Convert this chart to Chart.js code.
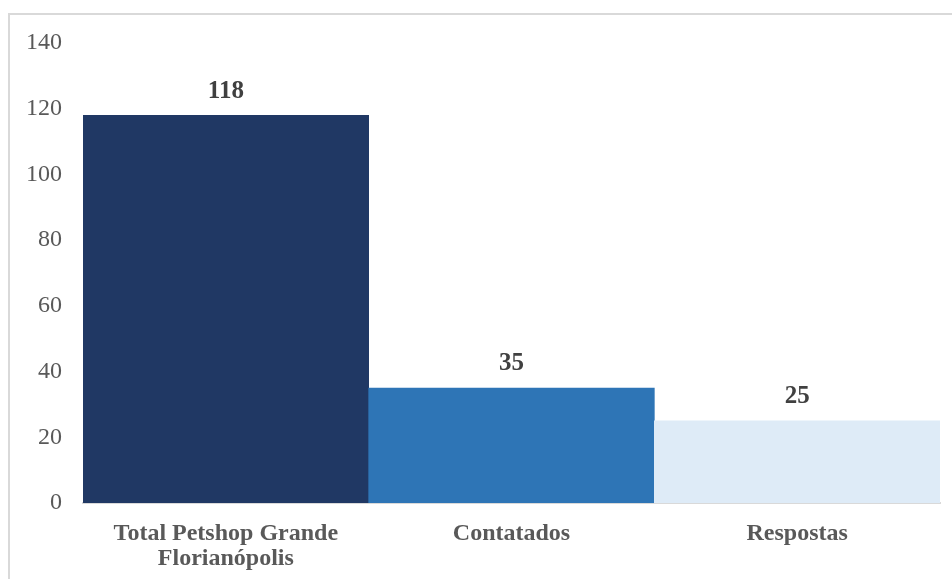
<!DOCTYPE html>
<html>
<head>
<meta charset="utf-8">
<script src="https://cdn.jsdelivr.net/npm/chart.js@4/dist/chart.umd.min.js"></script>
<style>
html,body{margin:0;padding:0;background:#fff;}
#wrap{position:absolute;left:0;top:0;width:952px;height:579px;}
</style>
</head>
<body>
<div id="wrap"><canvas id="c" width="952" height="579"></canvas></div>
<script>
const categories = [["Total Petshop Grande", "Florianópolis"], "Contatados", "Respostas"];
const values = [118, 35, 25];
const barColors = ["#203864", "#2e75b6", "#deebf7"];
const yTicks = [0, 20, 40, 60, 80, 100, 120, 140];

const frame = {
  id: 'frame',
  beforeDraw(chart) {
    const ctx = chart.ctx;
    ctx.save();
    ctx.strokeStyle = '#d9d9d9';
    ctx.lineWidth = 2;
    ctx.beginPath();
    ctx.moveTo(9, 600);
    ctx.lineTo(9, 14);
    ctx.lineTo(960, 14);
    ctx.stroke();
    ctx.restore();
  }
};

const dataLabels = {
  id: 'dataLabels',
  afterDatasetsDraw(chart) {
    const ctx = chart.ctx;
    const meta = chart.getDatasetMeta(0);
    ctx.save();
    ctx.font = 'bold 25px "Liberation Serif"';
    ctx.fillStyle = '#404040';
    ctx.textAlign = 'center';
    ctx.textBaseline = 'middle';
    meta.data.forEach((bar, i) => {
      ctx.fillText(String(values[i]), bar.x, bar.y - 24);
    });
    ctx.restore();
  }
};

new Chart(document.getElementById('c'), {
  type: 'bar',
  data: {
    labels: categories,
    datasets: [{
      data: values,
      backgroundColor: barColors,
      borderWidth: 0,
      barPercentage: 1,
      categoryPercentage: 1
    }]
  },
  options: {
    responsive: false,
    animation: false,
    devicePixelRatio: 1,
    layout: { padding: { left: 0, right: 12, top: 43, bottom: 0 } },
    plugins: { legend: { display: false }, tooltip: { enabled: false } },
    scales: {
      x: {
        grid: { display: false, drawTicks: false },
        border: { display: true, color: '#d9d9d9', width: 2 },
        ticks: {
          color: '#595959',
          font: { family: '"Liberation Serif"', size: 24, weight: 'bold', lineHeight: 1.05 },
          padding: 18,
          maxRotation: 0,
          autoSkip: false
        },
        afterFit(s) { s.height = 76; }
      },
      y: {
        min: 0,
        max: 140,
        afterBuildTicks(s) { s.ticks = yTicks.map(v => ({ value: v })); },
        grid: { display: false, drawTicks: false },
        border: { display: false },
        ticks: {
          color: '#595959',
          font: { family: '"Liberation Serif"', size: 24 },
          padding: 21
        },
        afterFit(s) { s.width = 83; }
      }
    }
  },
  plugins: [frame, dataLabels]
});
</script>
</body>
</html>
